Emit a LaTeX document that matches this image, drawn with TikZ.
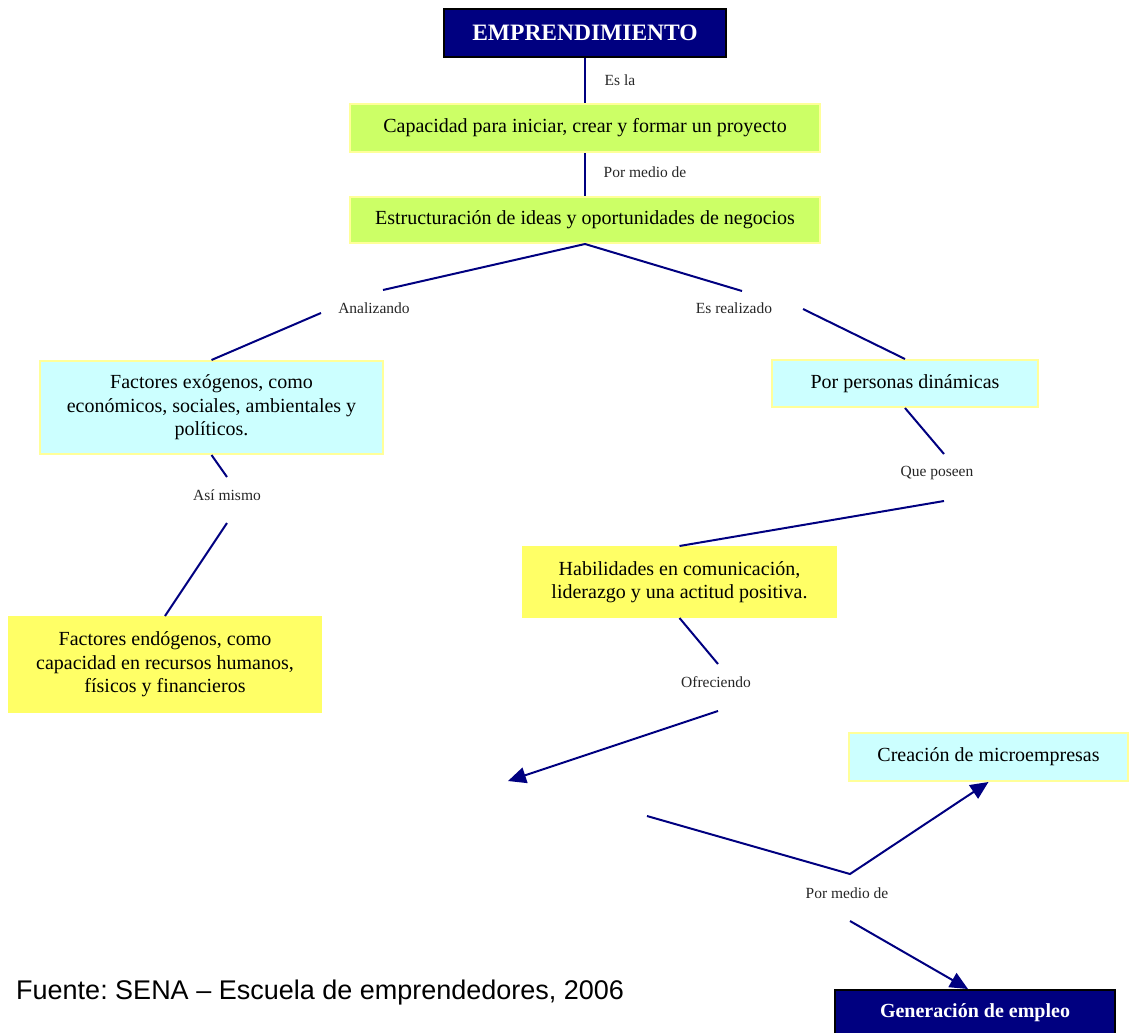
\documentclass[tikz,border=0pt]{standalone}
\usepackage{fontspec}
\setmainfont{Liberation Serif}
\newfontfamily\arialfont{Liberation Sans}
\usetikzlibrary{arrows.meta,positioning}
\frenchspacing
\definecolor{navy}{RGB}{0,0,128}
\definecolor{lime}{RGB}{204,255,102}
\definecolor{ice}{RGB}{204,255,255}
\definecolor{butter}{RGB}{255,255,102}
\definecolor{pale}{RGB}{255,255,153}
\tikzset{
  >={Triangle[length=18pt,width=16pt]},
  head/.style={fill=navy,draw=black,line width=2pt,text=white,inner sep=0pt,
    font=\fontsize{23.5}{27}\selectfont\bfseries,minimum width=282pt,minimum height=48pt},
  idea/.style={fill=#1,draw=pale,line width=2pt,align=center,inner sep=0pt,
    font=\fontsize{20}{23.5}\selectfont},
  idea/.default=lime,
  link/.style={draw=navy,line width=2pt},
  tag/.style={font=\fontsize{15.5}{18}\selectfont,text=black!85},
}

\begin{document}
\begin{tikzpicture}[x=1pt,y=-1pt]
  \useasboundingbox (0,0) rectangle (1130,1033);
  \clip (0,0) rectangle (1130,1033);
  % boxes
  \node[head] (emp) at (585,33) {EMPRENDIMIENTO};
  \node[idea,minimum width=470pt,minimum height=48pt] (cap) at (585,128) {Capacidad para iniciar, crear y formar un proyecto};
  \node[idea,minimum width=470pt,minimum height=46pt] (est) at (585,220) {Estructuración de ideas y oportunidades de negocios};
  \node[idea=ice,minimum width=343pt,minimum height=93pt] (exo) at (211.5,407.5) {Factores exógenos, como\\económicos, sociales, ambientales y\\políticos.};
  \node[idea=butter,draw=butter,minimum width=312pt,minimum height=95pt] (endo) at (165,664.5) {Factores endógenos, como\\capacidad en recursos humanos,\\físicos y financieros};
  \node[idea=ice,minimum width=266pt,minimum height=47pt] (pers) at (905,383.5) {Por personas dinámicas};
  \node[idea=butter,draw=butter,minimum width=313pt,minimum height=70pt] (hab) at (679.5,582) {Habilidades en comunicación,\\liderazgo y una actitud positiva.};
  \node[idea=ice,minimum width=279pt,minimum height=48pt] (micro) at (988.5,757) {Creación de microempresas};
  \node[head,minimum width=280pt,minimum height=46pt,font=\fontsize{20}{24}\selectfont\bfseries] (gen) at (975,1013) {Generación de empleo};

  % labels
  \node[tag] (esla) at (620,80) {Es la};
  \node[tag] (medio1) at (645,172) {Por medio de};
  \node[tag] (anal) at (374,308) {Analizando};
  \node[tag] (real) at (734,308) {Es realizado};
  \node[tag] (asi) at (227,495) {Así mismo};
  \node[tag] (pos) at (937,473) {Que poseen};
  \node[tag] (ofr) at (716,682) {Ofreciendo};
  \node[tag] (medio2) at (847,893) {Por medio de};

  % line ends
  \coordinate (a1) at (383,290);
  \coordinate (a2) at (321,313);
  \coordinate (r1) at (742,291);
  \coordinate (r2) at (803,309);
  \coordinate (s1) at (227,477);
  \coordinate (s2) at (227,523);
  \coordinate (q1) at (944,454);
  \coordinate (q2) at (944,501);
  \coordinate (o1) at (718,664);
  \coordinate (o2) at (718,711);
  \coordinate (o3) at (508,781);
  \coordinate (m1) at (647,816);
  \coordinate (m2) at (850,874);
  \coordinate (m3) at (850,921);

  \draw[link] (emp) -- (cap);
  \draw[link] (cap) -- (est);
  \draw[link] (est.south) -- (a1);
  \draw[link] (a2) -- (exo.north);
  \draw[link] (est.south) -- (r1);
  \draw[link] (r2) -- (pers.north);
  \draw[link] (exo.south) -- (s1);
  \draw[link] (s2) -- (endo.north);
  \draw[link] (pers.south) -- (q1);
  \draw[link] (q2) -- (hab.north);
  \draw[link] (hab.south) -- (o1);
  \draw[link,->] (o2) -- (o3);
  \draw[link,->] (m1) -- (m2) -- (micro.south);
  \draw[link,->] (m3) -- ([xshift=-7pt]gen.north);

  \node[font=\arialfont\fontsize{27}{32}\selectfont,anchor=west,inner sep=0pt] (src) at (16,993) {Fuente: SENA – Escuela de emprendedores, 2006};
\end{tikzpicture}
\end{document}
